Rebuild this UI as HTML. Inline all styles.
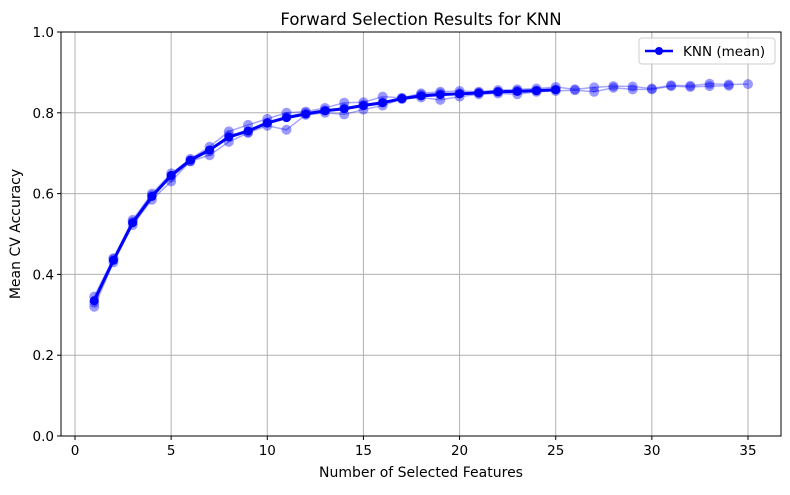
<!DOCTYPE html>
<html><head><meta charset="utf-8"><style>
body{margin:0;background:#fff;}
svg text{font-family:"DejaVu Sans","Liberation Sans",sans-serif;fill:#000;}
</style></head><body>
<svg id="chart" width="790" height="490" xmlns="http://www.w3.org/2000/svg">
<rect width="790" height="490" fill="#fff"/>
<text x="421" y="25" font-size="16.5" text-anchor="middle">Forward Selection Results for KNN</text>
<g id="grid"></g>
<g id="trials"></g>
<g id="mean"></g>
<rect x="61" y="32" width="720" height="404" fill="none" stroke="#000" stroke-width="1"/>
<g id="ticks"></g>
<text x="421" y="477" font-size="14" text-anchor="middle">Number of Selected Features</text>
<text transform="translate(20,234) rotate(-90)" font-size="14" text-anchor="middle">Mean CV Accuracy</text>
<g>
<rect x="639" y="38" width="136" height="26" rx="3" fill="#fff" fill-opacity="0.85" stroke="#ccc"/>
<line x1="645" y1="51" x2="673" y2="51" stroke="#0000ff" stroke-width="2.5"/>
<circle cx="659" cy="51" r="4" fill="#0000ff"/>
<text x="683" y="56" font-size="13.5">KNN (mean)</text>
</g>
</svg>
<script>
const meanX=[1,2,3,4,5,6,7,8,9,10,11,12,13,14,15,16,17,18,19,20,21,22,23,24,25];
const meanY=[0.335,0.435,0.528,0.593,0.645,0.683,0.708,0.740,0.755,0.775,0.788,0.797,0.805,0.810,0.818,0.825,0.835,0.842,0.845,0.847,0.849,0.852,0.853,0.855,0.857];
const trialA=[0.345,0.440,0.535,0.600,0.650,0.686,0.716,0.754,0.770,0.785,0.800,0.803,0.812,0.825,0.826,0.840,0.837,0.848,0.852,0.854,0.852,0.856,0.858,0.860,0.864,0.858,0.863,0.866,0.865,0.860,0.868,0.867,0.872,0.870,0.871];
const trialB=[0.320,0.430,0.522,0.585,0.630,0.680,0.695,0.728,0.750,0.768,0.758,0.795,0.800,0.796,0.808,0.818,0.834,0.838,0.832,0.840,0.846,0.848,0.846,0.852,0.854,0.856,0.852,0.862,0.858,0.858,0.866,0.864,0.866,0.867];
const trialC=[0.330,0.438,0.530,0.595,0.640,0.680,0.705,0.745,0.752,0.775,0.790,0.800,0.806,0.812,0.820,0.826,0.836,0.845,0.848,0.848,0.850,0.852,0.855,0.855,0.858];
const xTicks=[0,5,10,15,20,25,30,35];
const yTicks=[0.0,0.2,0.4,0.6,0.8,1.0];
const NS="http://www.w3.org/2000/svg";
const sx=v=>75+v*(748-75)/35;
const sy=v=>436-v*404;
function mk(t,a,p){const e=document.createElementNS(NS,t);for(const k in a)e.setAttribute(k,a[k]);p.appendChild(e);return e;}
const grid=document.getElementById('grid'),ticks=document.getElementById('ticks');
xTicks.forEach(v=>{
 const g=mk('line',{x1:sx(v),x2:sx(v),y1:32,y2:436,stroke:'#b0b0b0','stroke-width':1},grid);
 
 
 mk('line',{x1:sx(v),x2:sx(v),y1:436,y2:440,stroke:'#000'},ticks);
 const t=mk('text',{x:sx(v),y:455,'font-size':13.5,'text-anchor':'middle'},ticks);t.textContent=v;
 
 
});
yTicks.forEach(v=>{
 const g=mk('line',{x1:61,x2:781,y1:sy(v),y2:sy(v),stroke:'#b0b0b0','stroke-width':1},grid);
 
 
 mk('line',{x1:57,x2:61,y1:sy(v),y2:sy(v),stroke:'#000'},ticks);
 const t=mk('text',{x:54,y:sy(v)+5,'font-size':13.5,'text-anchor':'end'},ticks);t.textContent=v.toFixed(1);
 
 
});
const trials=document.getElementById('trials');
[trialA,trialB,trialC].forEach((arr,i)=>{
 const pts=arr.map((v,j)=>sx(j+1)+','+sy(v)).join(' ');
 const pl=mk('polyline',{points:pts,fill:'none',stroke:'#0000ff','stroke-opacity':0.35,'stroke-width':1.5},trials);
 
 
 arr.forEach((v,j)=>{const c=mk('circle',{cx:sx(j+1),cy:sy(v),r:5,fill:'#0000ff','fill-opacity':0.4},trials);
  
  });
});
const mean=document.getElementById('mean');
const pl=mk('polyline',{points:meanX.map((x,i)=>sx(x)+','+sy(meanY[i])).join(' '),fill:'none',stroke:'#0000ff','stroke-width':3},mean);


meanX.forEach((x,i)=>{const c=mk('circle',{cx:sx(x),cy:sy(meanY[i]),r:4.5,fill:'#0000ff'},mean);
 
 });
</script>
</body></html>
